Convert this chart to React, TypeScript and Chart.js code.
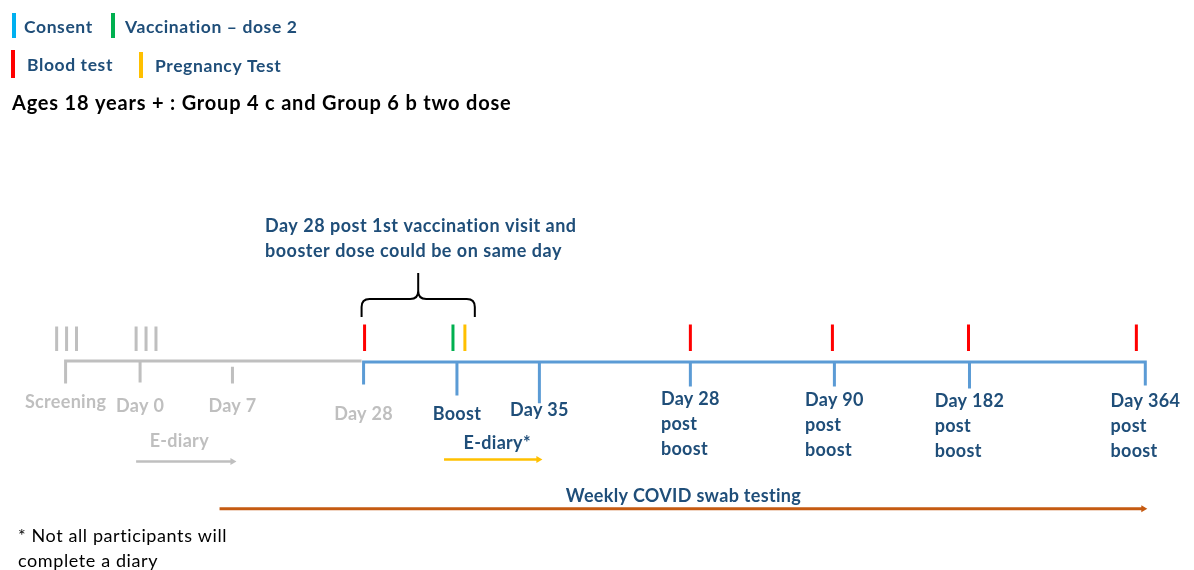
import React, { useEffect, useRef } from "react";
import { Chart, registerables } from "chart.js";

Chart.register(...registerables);

// ---------- data ----------
const legendLabels = ["Consent", "Vaccination – dose 2", "Blood test", "Pregnancy Test"];
const legendKinds = ["consent", "vaccination", "blood", "pregnancy"];

const titleText = "Ages 18 years + : Group 4 c and Group 6 b two dose";
const noteLines = ["Day 28 post 1st vaccination visit and", "booster dose could be on same day"];
const footnoteLines = ["* Not all participants will", "complete a diary"];

// visits along the schematic timeline
const visitLabels = [
  ["Screening"],
  ["Day 0"],
  ["Day 7"],
  ["Day 28"],
  ["Boost"],
  ["Day 35"],
  ["Day 28", "post", "boost"],
  ["Day 90", "post", "boost"],
  ["Day 182", "post", "boost"],
  ["Day 364", "post", "boost"],
];
const visitPos = [0, 7.5, 16.8, 30.0, 39.4, 47.7, 62.9, 77.4, 91.0, 108.7];
const visitPhase = ["prior", "prior", "prior", "prior", "boost", "boost", "boost", "boost", "boost", "boost"];

// procedure marks above the timeline
const markerPos = [-0.9, 0.1, 1.1, 7.1, 8.1, 9.1, 30.1, 39.0, 40.2, 62.9, 77.2, 90.9, 107.8];
const markerKind = [
  "prior", "prior", "prior", "prior", "prior", "prior",
  "blood", "vaccination", "pregnancy", "blood", "blood", "blood", "blood",
];

// periods shown as arrows
const periodLabels = ["E-diary", "E-diary*", "Weekly COVID swab testing"];
const periodStart = [7.1, 38.1, 15.5];
const periodEnd = [16.8, 47.6, 108.5];
const periodKind = ["prior", "diary", "swab"];

// bracket grouping Day 28 visit with booster dose
const bracketFrom = 29.8;
const bracketTo = 41.2;

// ---------- styles / layout ----------
const COLORS: Record<string, string> = {
  consent: "#00b0f0",
  vaccination: "#00b050",
  blood: "#ff0000",
  pregnancy: "#ffc000",
  prior: "#bfbfbf",
  boost: "#5b9bd5",
  diary: "#ffc000",
  swab: "#c55a11",
  text: "#1f4e79",
  priorText: "#bfbfbf",
};
const FONT = "Lato, 'Open Sans', sans-serif";
const AXIS_Y = 362;
const MARK_TOP = 325;
const MARK_BOTTOM = 352;
const TICK_BOTTOM = [385, 384, 385, 386, 397, 405, 388, 388, 390, 387];
const TICK_TOP_GAP = [0, 0, 6, 0, 0, 0, 0, 0, 0, 0];
const LABEL_Y = [402, 406, 406, 414, 414, 410, 399, 400, 401, 401];
const PERIOD_Y = [464, 462, 512];
const PERIOD_LABEL_Y = [441, 443, 496];
const PERIOD_LABEL_DX = [-5, 6, 2];

type P = { x: number; y: number | null };

function segments(list: Array<[number, number, number]>): P[] {
  const out: P[] = [];
  list.forEach(([x, y1, y2], i) => {
    if (i > 0) out.push({ x, y: null });
    out.push({ x, y: y1 });
    out.push({ x, y: y2 });
  });
  return out;
}

function setFont(ctx: any, font: string, spacing: number) {
  ctx.font = font;
  try {
    ctx.letterSpacing = `${spacing}px`;
  } catch (e) {
    /* ignore */
  }
}

const overlayPlugin = {
  id: "overlay",
  afterDatasetsDraw(chart: any) {
    const ctx: CanvasRenderingContext2D = chart.ctx;
    const xs = chart.scales.x;
    const px = (v: number) => xs.getPixelForValue(v);
    ctx.save();
    ctx.textBaseline = "middle";

    // legend
    const legendPlace = [
      { bx: 14, by1: 13, by2: 38, tx: 24, ty: 27 },
      { bx: 113, by1: 13, by2: 38, tx: 125, ty: 27 },
      { bx: 13, by1: 50, by2: 78, tx: 27, ty: 65 },
      { bx: 141, by1: 52, by2: 78, tx: 155, ty: 66 },
    ];
    legendLabels.forEach((lab, i) => {
      const p = legendPlace[i];
      ctx.fillStyle = COLORS[legendKinds[i]];
      ctx.fillRect(p.bx - 2, p.by1, 4, p.by2 - p.by1);
      ctx.fillStyle = COLORS.text;
      setFont(ctx, `bold 17.5px ${FONT}`, 0.6);
      ctx.textAlign = "left";
      ctx.fillText(lab, p.tx, p.ty);
    });

    // title
    ctx.fillStyle = "#000000";
    setFont(ctx, `bold 20px ${FONT}`, 0.8);
    ctx.fillText(titleText, 12, 104);

    // note above bracket
    ctx.fillStyle = COLORS.text;
    setFont(ctx, `bold 18px ${FONT}`, 0.5);
    noteLines.forEach((l, i) => ctx.fillText(l, 265, 226 + i * 25));

    // bracket
    const bx1 = px(bracketFrom);
    const bx2 = px(bracketTo);
    const bm = (bx1 + bx2) / 2;
    const yb = 317, yh = 299, yt = 273, r = 8;
    ctx.strokeStyle = "#000000";
    ctx.lineWidth = 2;
    ctx.beginPath();
    ctx.moveTo(bx1, yb);
    ctx.lineTo(bx1, yh + r);
    ctx.quadraticCurveTo(bx1, yh, bx1 + r, yh);
    ctx.lineTo(bm - r, yh);
    ctx.quadraticCurveTo(bm, yh, bm, yh - r);
    ctx.lineTo(bm, yt);
    ctx.moveTo(bm, yh - r);
    ctx.quadraticCurveTo(bm, yh, bm + r, yh);
    ctx.lineTo(bx2 - r, yh);
    ctx.quadraticCurveTo(bx2, yh, bx2, yh + r);
    ctx.lineTo(bx2, yb);
    ctx.stroke();

    // visit labels
    setFont(ctx, `bold 18px ${FONT}`, 0.3);
    visitLabels.forEach((lines, i) => {
      const cx = px(visitPos[i]);
      const w = Math.max(...lines.map((l) => ctx.measureText(l).width));
      ctx.fillStyle = i <= 3 ? COLORS.priorText : COLORS.text;
      ctx.textAlign = "left";
      lines.forEach((l, j) => ctx.fillText(l, cx - w / 2, LABEL_Y[i] + j * 25));
    });

    // period labels
    periodLabels.forEach((lab, i) => {
      const cx = (px(periodStart[i]) + px(periodEnd[i])) / 2 + PERIOD_LABEL_DX[i];
      ctx.fillStyle = periodKind[i] === "prior" ? COLORS.priorText : COLORS.text;
      ctx.textAlign = "center";
      ctx.fillText(lab, cx, PERIOD_LABEL_Y[i]);
    });

    // footnote
    ctx.fillStyle = "#000000";
    setFont(ctx, `18px ${FONT}`, 0.6);
    ctx.textAlign = "left";
    footnoteLines.forEach((l, i) => ctx.fillText(l, 18, 536 + i * 25));

    ctx.restore();
  },
};

export default function App() {
  const ref = useRef<HTMLCanvasElement | null>(null);

  useEffect(() => {
    document.body.style.margin = "0";
    if (!ref.current) return;

    const lastPrior = visitPhase.indexOf("boost") - 1; // Day 28 visit splits phases
    const startPos = visitPos[0];
    const splitPos = visitPos[lastPrior];
    const endPos = visitPos[visitPos.length - 1];

    const grayPts: P[] = [
      { x: startPos, y: TICK_BOTTOM[0] },
      { x: startPos, y: AXIS_Y },
      { x: splitPos - 0.2, y: AXIS_Y },
      ...visitPos.slice(1, lastPrior).flatMap((x, k) => {
        const i = k + 1;
        return [{ x, y: null }, { x, y: AXIS_Y + TICK_TOP_GAP[i] }, { x, y: TICK_BOTTOM[i] }];
      }),
    ];

    const bluePts: P[] = [
      { x: splitPos, y: TICK_BOTTOM[lastPrior] },
      { x: splitPos, y: AXIS_Y + 1 },
      { x: endPos, y: AXIS_Y + 1 },
      { x: endPos, y: TICK_BOTTOM[visitPos.length - 1] },
      ...visitPos.slice(lastPrior + 1, visitPos.length - 1).flatMap((x, k) => {
        const i = k + lastPrior + 1;
        return [{ x, y: null }, { x, y: AXIS_Y + 1 }, { x, y: TICK_BOTTOM[i] }];
      }),
    ];

    const kinds = ["prior", "blood", "vaccination", "pregnancy"];
    const markerSets = kinds.map((kind) => {
      const list: Array<[number, number, number]> = [];
      markerPos.forEach((x, i) => {
        if (markerKind[i] === kind) list.push([x, kind === "prior" ? MARK_TOP + 2 : MARK_TOP, MARK_BOTTOM]);
      });
      return {
        data: segments(list),
        borderColor: COLORS[kind],
        borderWidth: 3,
        borderCapStyle: "butt" as const,
        showLine: true,
        spanGaps: false,
        pointRadius: 0,
      };
    });

    const periodSets = periodLabels.map((_, i) => ({
      data: [
        { x: periodStart[i], y: PERIOD_Y[i] },
        { x: periodEnd[i], y: PERIOD_Y[i] },
      ],
      borderColor: COLORS[periodKind[i]],
      backgroundColor: COLORS[periodKind[i]],
      borderWidth: periodKind[i] === "swab" ? 3 : 2.5,
      showLine: true,
      pointStyle: "triangle" as const,
      rotation: 90,
      pointRadius: [0, 4],
      pointBorderWidth: 0,
    }));

    const chart = new Chart(ref.current, {
      type: "scatter",
      data: {
        datasets: [
          {
            data: grayPts,
            borderColor: COLORS.prior,
            borderWidth: 3,
            showLine: true,
            spanGaps: false,
            pointRadius: 0,
            borderCapStyle: "butt",
          },
          {
            data: bluePts,
            borderColor: COLORS.boost,
            borderWidth: 3,
            showLine: true,
            spanGaps: false,
            pointRadius: 0,
            borderCapStyle: "butt",
          },
          ...markerSets,
          ...periodSets,
        ] as any,
      },
      options: {
        responsive: false,
        animation: false,
        devicePixelRatio: 1,
        layout: { padding: 0 },
        plugins: { legend: { display: false }, tooltip: { enabled: false } },
        scales: {
          x: { type: "linear", display: false, min: -6.2, max: 113.2 },
          y: { type: "linear", display: false, min: 0, max: 570, reverse: true },
        },
        elements: { line: { tension: 0 } },
      },
      plugins: [overlayPlugin],
    });
    return () => chart.destroy();
  }, []);

  return (
    <div style={{ width: 1194, height: 570, background: "#ffffff" }}>
      <canvas ref={ref} width={1194} height={570} />
    </div>
  );
}
